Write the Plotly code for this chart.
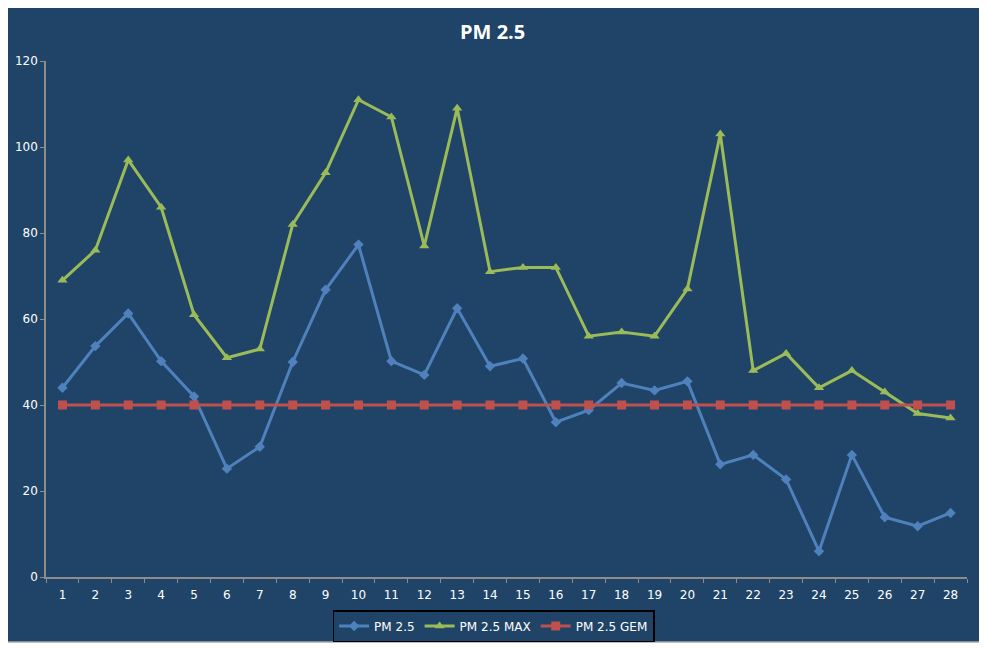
import plotly.graph_objects as go

# data
days = [str(d) for d in range(1, 29)]
pm25 = [44, 53.7, 61.3, 50.2, 42, 25.2, 30.3, 50, 66.8, 77.3, 50.2, 47, 62.5, 49,
        50.8, 36, 38.8, 45.1, 43.4, 45.5, 26.2, 28.4, 22.7, 6, 28.4, 13.9, 11.8, 14.9]
pm25_max = [69, 76, 97, 86, 61, 51, 53, 82, 94, 111, 107, 77, 109, 71,
            72, 72, 56, 57, 56, 67, 103, 48, 52, 44, 48, 43, 38, 37]
pm25_gem = [40] * 28

BG = "#1F4467"
AXIS = "#8C8C8C"
TXT = "#FFFFFF"

fig = go.Figure()
fig.add_trace(go.Scatter(
    x=days, y=pm25, name="PM 2.5", mode="lines+markers",
    line=dict(color="#4F81BD", width=3),
    marker=dict(symbol="diamond", size=8, color="#4F81BD"),
))
fig.add_trace(go.Scatter(
    x=days, y=pm25_max, name="PM 2.5 MAX", mode="lines+markers",
    line=dict(color="#9BBB59", width=3),
    marker=dict(symbol="triangle-up", size=9, color="#9BBB59"),
))
fig.add_trace(go.Scatter(
    x=days, y=pm25_gem, name="PM 2.5 GEM", mode="lines+markers",
    line=dict(color="#C0504D", width=3),
    marker=dict(symbol="square", size=9, color="#C0504D"),
))

# chart frame (dark area with thin grey border, white outside)
fig.add_shape(
    type="rect", xref="paper", yref="paper", layer="below",
    x0=-0.0445, x1=1.0163, y0=-0.126, y1=1.1085,
    fillcolor=BG, line=dict(color="#A6A6A6", width=1.5),
)

# the page body adds an 8px offset, margins are shifted to compensate
fig.update_layout(
    width=987, height=648,
    paper_bgcolor="white", plot_bgcolor=BG,
    margin=dict(l=38, r=28, t=53, b=79, autoexpand=False),
    title=dict(text="<b>PM 2.5</b>", x=0.491, xanchor="center", y=0.963, yanchor="middle",
               font=dict(family="Open Sans", size=20, color=TXT)),
    font=dict(family="DejaVu Sans", size=12, color=TXT),
    showlegend=True,
    legend=dict(orientation="h", x=0.486, xanchor="center", y=-0.064, yanchor="top",
                bgcolor=BG, bordercolor="#000000", borderwidth=1.5,
                font=dict(family="DejaVu Sans", size=12, color=TXT),
                itemwidth=30, tracegroupgap=0),
    xaxis=dict(type="category", range=[-0.5, 27.5], showgrid=False, zeroline=False,
               showline=True, linecolor=AXIS, linewidth=1.5, automargin=False,
               ticks="outside", tickson="boundaries", ticklen=4, tickcolor=AXIS,
               ticklabelstandoff=6, tickfont=dict(color=TXT, size=12)),
    yaxis=dict(range=[0, 120], dtick=20, showgrid=False, zeroline=False,
               showline=True, linecolor=AXIS, linewidth=1.5, automargin=False,
               ticks="outside", ticklen=4, tickcolor=AXIS,
               tickfont=dict(color=TXT, size=12)),
)

fig.write_html("out.html")
